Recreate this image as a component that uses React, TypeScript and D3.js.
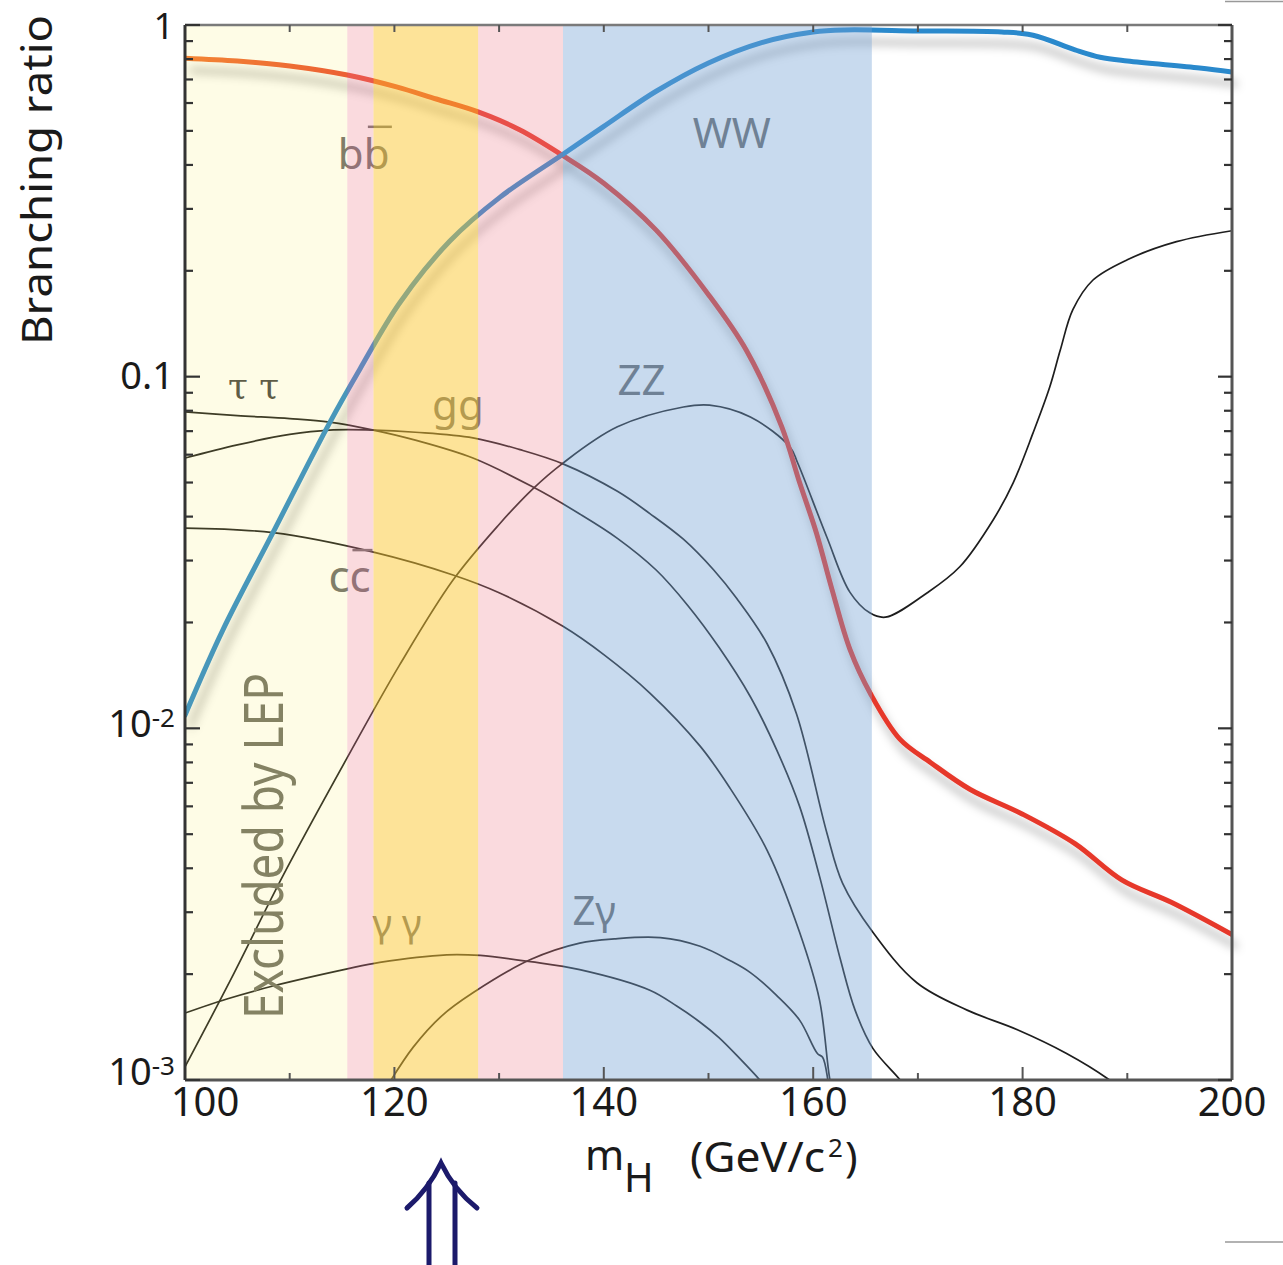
import * as d3 from "d3";

type Pt = [number, number];

// Higgs branching ratios vs m_H (GeV/c^2)
const BB: Pt[] = [[100,0.805],[105,0.79],[110,0.765],[115.5,0.721],[120.2,0.667],[124,0.616],[128,0.566],[132,0.503],[136,0.427],[140,0.355],[145,0.261],[150,0.171],[153.6,0.119],[157,0.072],[158.7,0.05],[160.3,0.036],[161.8,0.0248],[163.5,0.0168],[165.5,0.0125],[168.3,0.0093],[171.2,0.008],[175,0.0067],[180,0.0057],[185,0.0047],[189.5,0.0037],[194.2,0.0032],[200,0.00259]];
const WW: Pt[] = [[100,0.0109],[103.6,0.019],[108.4,0.036],[113.8,0.0738],[116.7,0.105],[120.5,0.162],[125.3,0.243],[130.1,0.324],[136.1,0.429],[140,0.515],[145,0.648],[150,0.78],[155,0.89],[160,0.955],[163,0.968],[170,0.962],[178,0.955],[181,0.935],[185,0.85],[187.4,0.81],[190,0.79],[196.9,0.755],[200,0.735]];
const TAU: Pt[] = [[100,0.0794],[105,0.0775],[110,0.076],[113.8,0.0743],[118,0.0705],[122,0.066],[127.5,0.0587],[133.2,0.0486],[137.7,0.0407],[141.3,0.0347],[145,0.0282],[148,0.0224],[151,0.017],[154,0.0123],[156.5,0.0087],[158.7,0.006],[160.6,0.0038],[162.6,0.0022],[164,0.00158],[165.7,0.00123],[168.3,0.001],[169,0.00093]];
const GG: Pt[] = [[100,0.0587],[105,0.064],[110,0.0685],[113.8,0.0705],[118,0.0705],[122,0.0695],[127.5,0.067],[132,0.062],[136.1,0.0565],[141.3,0.0472],[144.4,0.0408],[147.6,0.0345],[150.5,0.0282],[152.7,0.0234],[155.6,0.0174],[158.4,0.011],[161.3,0.00505],[162.8,0.00363],[165.7,0.00263],[169.9,0.00189],[174.7,0.00158],[179.5,0.00139],[184.2,0.00119],[188.1,0.00101],[189,0.00096]];
const CC: Pt[] = [[100,0.0371],[108.4,0.036],[118,0.0317],[125.6,0.0273],[130,0.0243],[136.1,0.0195],[140,0.0162],[144.4,0.0126],[149.2,0.0089],[152,0.0068],[155.6,0.0045],[158.7,0.00263],[160.6,0.00169],[161.6,0.001],[162,0.0009]];
const ZZ: Pt[] = [[100,0.00109],[104.6,0.00199],[109.4,0.00383],[115.8,0.00857],[120.5,0.01515],[125.6,0.0264],[130,0.038],[133.2,0.0479],[136.1,0.0568],[141.3,0.072],[147.6,0.082],[150.1,0.083],[154,0.0768],[157.8,0.063],[158.5,0.057],[161.3,0.035],[163.5,0.0244],[165.4,0.0213],[166.9,0.0207],[170.9,0.0243],[174,0.0288],[177.2,0.0392],[179.1,0.0499],[181,0.0692],[182.6,0.0936],[183.6,0.119],[184.8,0.155],[186.7,0.188],[190,0.215],[194.7,0.242],[200,0.26]];
const ZGAMMA: Pt[] = [[119.5,0.00098],[121.8,0.00124],[124.5,0.00152],[127.5,0.00177],[133,0.0022],[137.7,0.00245],[141,0.00252],[145.4,0.00254],[149.2,0.0024],[152,0.00219],[154,0.00202],[156.5,0.00174],[158.7,0.00148],[160.4,0.00119],[160.9,0.00116],[161.4,0.001],[161.6,0.0009]];
const GAMMAGAMMA: Pt[] = [[100,0.00155],[104,0.0017],[108.4,0.00185],[115.5,0.00207],[118.6,0.00216],[125,0.00227],[128.2,0.00226],[133,0.00217],[137.7,0.00206],[144.4,0.0018],[147,0.00162],[149.2,0.00146],[151,0.00132],[153,0.00115],[154.9,0.001],[155.5,0.00095]];

const thinSeries = [TAU, GG, CC, ZZ, ZGAMMA, GAMMAGAMMA];

// mass bands: LEP exclusion, and highlighted windows
const bandEdges = [100, 115.5, 118, 128, 136.1, 165.6];
const bandFills = ["rgb(248,235,88)", "rgb(238,132,145)", "rgb(251,199,49)", "rgb(238,132,145)", "rgb(118,163,213)"];
const bandAlpha = [0.15, 0.3, 0.5, 0.3, 0.4];

const xTicks = [100, 120, 140, 160, 180, 200];
const xMinor = [110, 130, 150, 170, 190];
const yLabels = [
  { v: 1, base: "1", exp: "" },
  { v: 0.1, base: "0.1", exp: "" },
  { v: 0.01, base: "10", exp: "-2" },
  { v: 0.001, base: "10", exp: "-3" },
];

const notes = [
  { text: "bb", m: 114.6, v: 0.39, size: 42, bar: [30, 54] },
  { text: "WW", m: 148.5, v: 0.447, size: 42 },
  { text: "τ τ", m: 104.1, v: 0.087, size: 36, serif: true },
  { text: "gg", m: 123.6, v: 0.0753, size: 42 },
  { text: "ZZ", m: 141.3, v: 0.0887, size: 42 },
  { text: "cc", m: 113.7, v: 0.0244, size: 44, bar: [24, 44] },
  { text: "γ γ", m: 117.9, v: 0.00255, size: 38 },
  { text: "Zγ", m: 137, v: 0.00276, size: 40 },
];

const W = 1283, H = 1265;
const L = 185, R = 1232, T = 25, B = 1080;
const FONT = "'Noto Sans', 'Open Sans', sans-serif";

export default function App() {
  const x = d3.scaleLinear([100, 200], [L, R]);
  const y = d3.scaleLog([0.001, 1], [B, T]);
  const line = d3.line<Pt>(d => x(d[0]), d => y(d[1])).curve(d3.curveCatmullRom.alpha(0.5));
  const yt = y.ticks();
  const major = (v: number) => Math.abs(Math.log10(v) - Math.round(Math.log10(v))) < 1e-6;

  return (
    <svg width={W} height={H} style={{ display: "block", position: "absolute", left: 0, top: 0 }} fontFamily={FONT}>
      <defs>
        <clipPath id="plot"><rect x={L} y={T} width={R - L} height={B - T} /></clipPath>
        <filter id="shadow" filterUnits="userSpaceOnUse" x={0} y={0} width={W} height={H}>
          <feGaussianBlur in="SourceAlpha" stdDeviation={5} />
          <feOffset dx={5} dy={12} result="blur" />
          <feFlood floodColor="#000" floodOpacity={0.3} />
          <feComposite in2="blur" operator="in" />
          <feMerge><feMergeNode /><feMergeNode in="SourceGraphic" /></feMerge>
        </filter>
        <linearGradient id="bbGrad" gradientUnits="userSpaceOnUse" x1={x(100)} x2={x(125)} y1={0} y2={0}>
          <stop offset="0" stopColor="#f2742e" />
          <stop offset="0.6" stopColor="#ea4a2e" />
          <stop offset="1" stopColor="#e6382c" />
        </linearGradient>
      </defs>
      <rect width={W} height={H} fill="#fff" />

      <g clipPath="url(#plot)">
        {thinSeries.map((s, i) => (
          <path key={i} d={line(s) || ""} fill="none" stroke="#1e1e1e" strokeWidth={1.7} />
        ))}
      </g>

      {notes.map((n, i) => (
        <g key={i}>
          <text x={x(n.m)} y={y(n.v)} fontSize={n.size} fill={n.serif ? "#444" : "#6c6c6c"}
            fontFamily={n.serif ? "'DejaVu Serif', serif" : FONT}>{n.text}</text>
          {n.bar && (
            <line x1={x(n.m) + n.bar[0]} x2={x(n.m) + n.bar[1]} y1={y(n.v) - 42} y2={y(n.v) - 42}
              stroke="#6c6c6c" strokeWidth={2.5} />
          )}
        </g>
      ))}
      <text transform={`translate(283,846) rotate(-90)`} textAnchor="middle" fontSize={54}
        textLength={346} lengthAdjust="spacingAndGlyphs" fill="#707066">Excluded by LEP</text>

      <g filter="url(#shadow)">
        <g clipPath="url(#plot)">
          <path d={line(BB) || ""} fill="none" stroke="url(#bbGrad)" strokeWidth={5} strokeLinecap="round" />
          <path d={line(WW) || ""} fill="none" stroke="#2b89cc" strokeWidth={5} strokeLinecap="round" />
        </g>
      </g>

      {bandFills.map((c, i) => (
        <rect key={i} x={x(bandEdges[i])} y={T} width={x(bandEdges[i + 1]) - x(bandEdges[i])} height={B - T}
          fill={c} fillOpacity={bandAlpha[i]} />
      ))}

      {/* frame */}
      <line x1={L} x2={R} y1={T} y2={T} stroke="#7a7a7a" strokeWidth={2.5} />
      <line x1={R} x2={R} y1={T} y2={B} stroke="#555" strokeWidth={3} />
      <line x1={L} x2={R} y1={B} y2={B} stroke="#555" strokeWidth={3} />
      <line x1={L} x2={L} y1={T} y2={B} stroke="#333" strokeWidth={3} />

      {yt.map((v, i) => (
        <g key={i} stroke="#333" strokeWidth={2.2}>
          <line x1={L} x2={L + (major(v) ? 15 : 8)} y1={y(v)} y2={y(v)} />
          <line x1={R} x2={R - (major(v) ? 14 : 8)} y1={y(v)} y2={y(v)} />
        </g>
      ))}
      {[...xTicks, ...xMinor].filter(m => m > 100 && m < 200).map((m, i) => (
        <g key={i} stroke="#555" strokeWidth={2}>
          <line x1={x(m)} x2={x(m)} y1={B} y2={B - (xTicks.includes(m) ? 13 : 7)} />
          <line x1={x(m)} x2={x(m)} y1={T} y2={T + 7} />
        </g>
      ))}

      {xTicks.map((m, i) => (
        <text key={i} x={x(m) + (m === 100 ? 20 : 0)} y={1116} textAnchor="middle" fontSize={40} fill="#1a1a1a">{m}</text>
      ))}
      {yLabels.map((d, i) => (
        <text key={i} x={d.exp ? 175 : 174} y={y(d.v) + (d.v === 0.001 ? 5 : d.exp ? 9 : d.v === 1 ? 14 : 12)}
          textAnchor="end" fontSize={d.v === 1 ? 36 : 38} fill="#1a1a1a">
          {d.base}
          {d.exp && <tspan fontSize={26} dy={-10}>{d.exp}</tspan>}
        </text>
      ))}

      <text transform="translate(52,180) rotate(-90)" textAnchor="middle" fontSize={42}
        textLength={330} lengthAdjust="spacingAndGlyphs" fill="#1a1a1a">Branching ratio</text>

      <g fill="#1a1a1a">
        <text x={585} y={1170} fontSize={42}>m</text>
        <text x={624} y={1192} fontSize={40}>H</text>
        <text x={690} y={1172} fontSize={42} textLength={135} lengthAdjust="spacingAndGlyphs">(GeV/c</text>
        <text x={828} y={1157} fontSize={26}>2</text>
        <text x={845} y={1172} fontSize={42}>)</text>
      </g>

      {/* arrow */}
      <g fill="none" stroke="#1c1a6b" strokeWidth={5} strokeLinecap="round">
        <path d="M407,1208 Q428,1190 441,1163 Q454,1190 477,1208" />
        <path d="M429,1183 V1265 M455,1183 V1265" />
      </g>

      <line x1={1225} x2={1283} y1={1.5} y2={1.5} stroke="#999" strokeWidth={1.5} />
      <line x1={1225} x2={1283} y1={1242} y2={1242} stroke="#999" strokeWidth={1.5} />
    </svg>
  );
}
